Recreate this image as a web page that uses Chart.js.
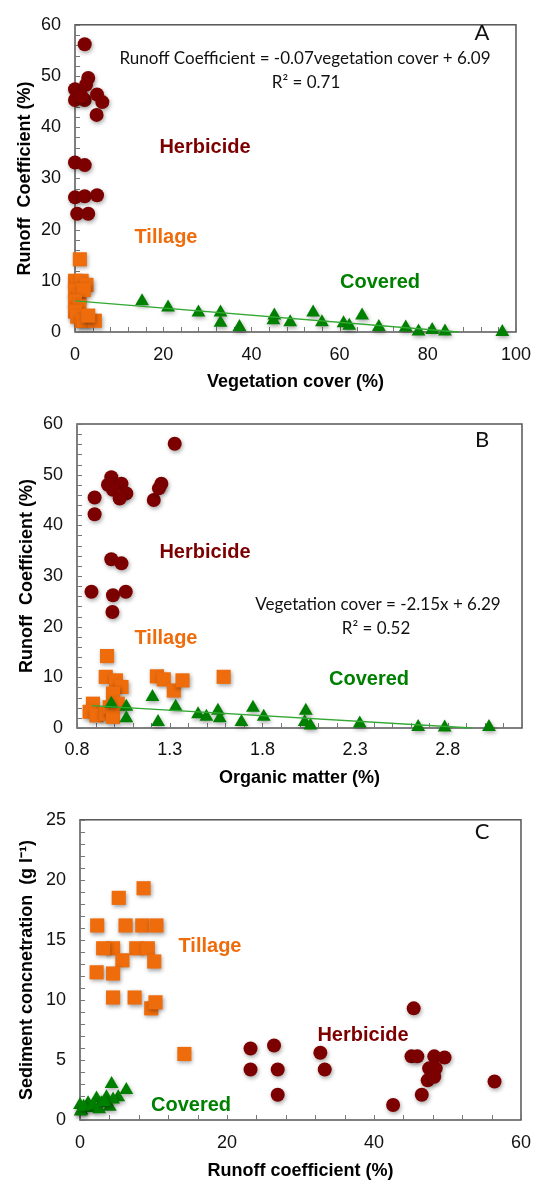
<!DOCTYPE html>
<html><head><meta charset="utf-8">
<script src="https://cdn.jsdelivr.net/npm/chart.js@4"></script>
<style>
html,body{margin:0;padding:0;background:#fff;width:543px;height:1182px;overflow:hidden;position:relative}
canvas{position:absolute;left:0}
</style></head><body>
<canvas id="cA" width="543" height="400" style="top:0px"></canvas>
<canvas id="cB" width="543" height="400" style="top:395px"></canvas>
<canvas id="cC" width="543" height="387" style="top:795px"></canvas>
<script>
// ---------- Panel A : runoff coefficient vs vegetation cover ----------
const herbA_x = [0,1,2.2,3,2.5,0,2.2,1.5,5,6.2,4.9,0,2.2,0,2.2,5,0.5,3];
const herbA_y = [47.4,47,56.2,49.6,48.3,45.3,45.3,46,46.4,44.9,42.4,33.1,32.6,26.3,26.5,26.7,23.1,23.1];
const tillA_x = [1.1,0,0.6,1.5,2.6,0,1,2,0,1,0,0.5,1.5,2,4.5,3];
const tillA_y = [14.2,10,9.4,10,9.2,8,7,8.2,6,5,4,3,2.2,2.2,2.2,3.2];
const covA_x = [15.2,21.1,28,33,33,37.3,45.2,45,48.8,54,56,60.9,62.2,65.1,68.9,75,77.9,81,83.9,96.9];
const covA_y = [6.0,4.8,3.8,3.8,1.8,1.0,3.2,2.3,1.9,3.8,1.9,1.7,1.2,3.2,1.0,0.9,0.1,0.4,0.1,0];
const trendA_x = [0,87];
const trendA_y = [6.09,0];
const xTicksA = [0,20,40,60,80,100];
const yTicksA = [0,10,20,30,40,50,60];

// ---------- Panel B : runoff coefficient vs organic matter ----------
const herbB_x = [1.327,0.985,0.967,1.04,0.994,1.066,1.03,0.895,0.895,1.214,1.255,1.242,0.985,1.04,0.878,0.994,1.063,0.991];
const herbB_y = [56.1,49.5,48.0,48.2,47.0,46.3,45.3,45.5,42.2,45.0,48.2,47.3,33.3,32.5,26.9,26.2,26.9,22.9];
const tillB_x = [0.962,0.955,1.01,1.04,0.994,0.886,0.868,0.905,0.958,0.976,1.02,0.994,1.231,1.268,1.322,1.369,1.591];
const tillB_y = [14.2,10.1,9.4,8.1,6.8,4.8,3.2,2.5,2.8,4.1,4.8,2.2,10.2,9.6,7.4,9.4,10.1];
const covB_x = [0.985,1.066,1.066,1.207,1.237,1.332,1.453,1.498,1.56,1.57,1.687,1.749,1.807,2.034,2.028,2.059,2.325,2.64,2.783,3.022];
const covB_y = [4.8,4.2,1.9,6.1,1.2,4.2,2.7,2.2,3.4,1.9,1.2,4.0,2.2,3.4,1.2,0.5,0.9,0.2,0.1,0.2];
const trendB_x = [0.88,2.93];
const trendB_y = [4.40,0];
const xTicksB = [0.8,1.3,1.8,2.3,2.8];
const yTicksB = [0,10,20,30,40,50,60];

// ---------- Panel C : sediment concentration vs runoff coefficient ----------
const tillC_x = [2.34,5.27,8.65,6.2,8.47,10.4,4.5,3.15,7.66,9.23,5.77,10.1,2.26,4.5,4.5,7.43,9.69,10.27,14.2];
const tillC_y = [16.2,18.5,19.3,16.2,16.2,16.2,14.3,14.3,14.3,14.3,13.3,13.2,12.3,12.2,10.2,10.2,9.3,9.8,5.5];
const herbC_x = [23.2,23.2,26.4,26.9,26.9,32.7,33.3,45.4,45.1,45.9,48.2,49.6,47.5,48.4,47.3,48.2,46.5,42.6,56.4];
const herbC_y = [5.95,4.2,6.2,4.2,2.1,5.6,4.2,9.3,5.3,5.3,5.3,5.2,4.3,4.3,3.3,3.6,2.1,1.25,3.2];
const covC_x = [4.3,6.3,5.2,2.25,1.1,0,0.2,3.6,2.9,1.35,4.05,4.5,0.1,0.5,1.8,2.6,3.3];
const covC_y = [3.0,2.5,1.9,1.8,1.4,1.25,0.8,1.9,1.4,1.0,1.1,1.7,0.7,1.1,1.2,0.9,1.5];
const xTicksC = [0,20,40,60];
const yTicksC = [0,5,10,15,20,25];

// ---------- styling ----------
const RED = '#7d0000', ORANGE = '#ee6c0c', GREEN = '#008000', LINE = '#33a833';
const SANS = '"Liberation Sans", Arial, Helvetica, sans-serif';
const CAL = 'Lato, "Open Sans", sans-serif';

function pts(xs, ys){ return xs.map((x,i)=>({x:x, y:ys[i]})); }

const shadowPlugin = {
  id:'shadow',
  beforeDatasetDraw(chart, args){
    const ds = chart.data.datasets[args.index];
    chart.ctx.save();
    if (!ds.showLine){
      chart.ctx.shadowColor = 'rgba(0,0,0,0.35)';
      chart.ctx.shadowBlur = 4;
      chart.ctx.shadowOffsetX = 1;
      chart.ctx.shadowOffsetY = 2;
    }
  },
  afterDatasetDraw(chart){ chart.ctx.restore(); }
};

const framePlugin = {
  id:'frame',
  beforeDatasetsDraw(chart, args, opts){
    const {ctx, chartArea:a, scales} = chart;
    ctx.save();
    ctx.strokeStyle = '#555';
    ctx.lineWidth = 1.5;
    ctx.strokeRect(a.left, a.top, a.right - a.left, a.bottom - a.top);
    ctx.lineWidth = 1;
    ctx.strokeStyle = '#777';
    ctx.beginPath();
    const xs = scales.x, ys = scales.y;
    for (let v = xs.min; v <= xs.max + 1e-9; v += opts.xMinor){
      const px = Math.round(xs.getPixelForValue(v)) + 0.5;
      ctx.moveTo(px, a.bottom); ctx.lineTo(px, a.bottom - 5);
    }
    for (let v = ys.min; v <= ys.max + 1e-9; v += opts.yMinor){
      const py = Math.round(ys.getPixelForValue(v)) + 0.5;
      ctx.moveTo(a.left, py); ctx.lineTo(a.left + 5, py);
    }
    ctx.stroke();
    ctx.restore();
  }
};

const textPlugin = {
  id:'texts',
  afterDatasetsDraw(chart, args, opts){
    const ctx = chart.ctx;
    ctx.save();
    ctx.textAlign = 'center';
    ctx.textBaseline = 'middle';
    (opts.items || []).forEach(t => {
      ctx.font = t.font;
      ctx.fillStyle = t.color;
      ctx.fillText(t.text, t.x, t.y);
    });
    ctx.restore();
  }
};

function panel(id, c){
  const datasets = [];
  if (c.trend) datasets.push({data: pts(c.trend[0], c.trend[1]), showLine:true, borderColor:LINE, borderWidth:1.3, pointRadius:0, fill:false, order:0, clip:false});
  datasets.push({data: pts(c.cov[0], c.cov[1]), pointStyle:'triangle', pointRadius:8, backgroundColor:GREEN, borderColor:GREEN, borderWidth:0, order:c.covOrder, clip:false});
  datasets.push({data: pts(c.till[0], c.till[1]), pointStyle:'rect', pointRadius:10, backgroundColor:ORANGE, borderColor:ORANGE, borderWidth:0, order:2, clip:false});
  datasets.push({data: pts(c.herb[0], c.herb[1]), pointStyle:'circle', pointRadius:7, backgroundColor:RED, borderColor:RED, borderWidth:0, order:3, clip:false});
  return new Chart(document.getElementById(id), {
    type:'scatter',
    data:{datasets},
    plugins:[shadowPlugin, framePlugin, textPlugin],
    options:{
      responsive:false, animation:false, devicePixelRatio:1,
      layout:{padding:{top:c.padTop, right:c.padRight, left:0, bottom:0}},
      plugins:{legend:{display:false}, tooltip:{enabled:false},
        frame:{xMinor:c.xMinor, yMinor:c.yMinor},
        texts:{items:c.texts}},
      scales:{
        x:{type:'linear', min:c.xMin, max:c.xMax,
          grid:{display:false, drawTicks:false}, border:{display:false},
          afterBuildTicks: s => { s.ticks = c.xTicks.map(v => ({value:v})); },
          afterFit: s => { s.height = c.xH; },
          ticks:{font:{family:SANS, size:18, lineHeight:1.2}, color:'#111', padding:c.xTickPad, maxRotation:0, autoSkip:false, callback: v => String(v)},
          title:{display:true, text:c.xTitle, color:'#000', font:{family:SANS, size:18, weight:'bold', lineHeight:1.2}, padding:{top:0, bottom:c.xTitlePad}}},
        y:{type:'linear', min:c.yMin, max:c.yMax,
          grid:{display:false, drawTicks:false}, border:{display:false},
          afterBuildTicks: s => { s.ticks = c.yTicks.map(v => ({value:v})); },
          afterFit: s => { s.width = c.left; },
          ticks:{font:{family:SANS, size:18, lineHeight:1.2}, color:'#111', padding:14, autoSkip:false, callback: v => String(v)},
          title:{display:true, text:c.yTitle, color:'#000', font:{family:SANS, size:18, weight:'bold', lineHeight:1.2}, padding:{top:c.yTitlePad, bottom:0}}}
      }
    }
  });
}

const catFont = 'bold 20px ' + SANS;
const eqFont = '17px ' + CAL;
const letFont = '22px ' + CAL;

panel('cA', {
  herb:[herbA_x, herbA_y], till:[tillA_x, tillA_y], cov:[covA_x, covA_y], trend:[trendA_x, trendA_y], covOrder:1,
  xMin:0, xMax:100, yMin:0, yMax:60, xTicks:xTicksA, yTicks:yTicksA, xMinor:4, yMinor:2,
  padTop:15, padRight:21, left:75, xH:68, xTickPad:12, xTitlePad:7, yTitlePad:14,
  xTitle:'Vegetation cover (%)', yTitle:'Runoff  Coefficient (%)',
  texts:[
    {text:'Runoff Coefficient = -0.07vegetation cover + 6.09', x:305, y:59, font:eqFont, color:'#111'},
    {text:'R\u00B2 = 0.71', x:306, y:83, font:eqFont, color:'#111'},
    {text:'A', x:482, y:33, font:letFont, color:'#111'},
    {text:'Herbicide', x:205, y:147, font:catFont, color:RED},
    {text:'Tillage', x:166, y:237, font:catFont, color:ORANGE},
    {text:'Covered', x:380, y:282, font:catFont, color:GREEN}
  ]
});

panel('cB', {
  herb:[herbB_x, herbB_y], till:[tillB_x, tillB_y], cov:[covB_x, covB_y], trend:[trendB_x, trendB_y], covOrder:1,
  xMin:0.8, xMax:3.2, yMin:0, yMax:60, xTicks:xTicksB, yTicks:yTicksB, xMinor:0.1, yMinor:2,
  padTop:29, padRight:21, left:77, xH:67, xTickPad:11, xTitlePad:6, yTitlePad:16,
  xTitle:'Organic matter (%)', yTitle:'Runoff  Coefficient (%)',
  texts:[
    {text:'Vegetation cover = -2.15x + 6.29', x:378, y:210, font:eqFont, color:'#111'},
    {text:'R\u00B2 = 0.52', x:376, y:234, font:eqFont, color:'#111'},
    {text:'B', x:482, y:45, font:letFont, color:'#111'},
    {text:'Herbicide', x:205, y:157, font:catFont, color:RED},
    {text:'Tillage', x:166, y:243, font:catFont, color:ORANGE},
    {text:'Covered', x:369, y:284, font:catFont, color:GREEN}
  ]
});

panel('cC', {
  herb:[herbC_x, herbC_y], till:[tillC_x, tillC_y], cov:[covC_x, covC_y], trend:null, covOrder:1,
  xMin:0, xMax:60, yMin:0, yMax:25, xTicks:xTicksC, yTicks:yTicksC, xMinor:4, yMinor:1,
  padTop:24, padRight:19, left:80, xH:62, xTickPad:12, xTitlePad:0, yTitlePad:16,
  xTitle:'Runoff coefficient (%)', yTitle:'Sediment concnetration  (g l\u207B\u00B9)',
  texts:[
    {text:'C', x:482, y:37, font:letFont, color:'#111'},
    {text:'Tillage', x:210, y:151, font:catFont, color:ORANGE},
    {text:'Herbicide', x:363, y:240, font:catFont, color:RED},
    {text:'Covered', x:191, y:310, font:catFont, color:GREEN}
  ]
});
</script>
</body></html>
